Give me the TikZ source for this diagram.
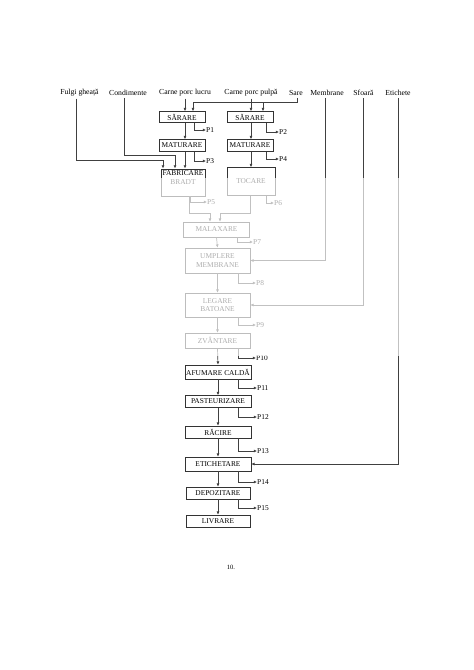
\documentclass[tikz,border=0pt]{standalone}
\usepackage{fontspec}
\setmainfont{Liberation Serif}
\usetikzlibrary{arrows.meta,calc}
\begin{document}
\begin{tikzpicture}[x=1pt,y=-1pt,
  box/.style={draw=black!80, line width=0.7pt, inner sep=0pt, align=center, font=\fontsize{7.4}{8.4}\selectfont},
  lbl/.style={inner sep=0pt, font=\fontsize{7.7}{9}\selectfont},
  loss/.style={inner sep=0pt, anchor=west, font=\fontsize{7.4}{8}\selectfont},
  ln/.style={draw=black!75, line width=0.7pt},
  arr/.style={draw=black!75, line width=0.7pt, -{Latex[length=3.2pt,width=3pt]}}]
\useasboundingbox (0,0) rectangle (474,670);

% input labels
\node[lbl] (fulgi) at (79.5,93) {Fulgi gheață};
\node[lbl] (cond) at (128,93) {Condimente};
\node[lbl] (lucru) at (185,93) {Carne porc lucru};
\node[lbl] (pulpa) at (251,93) {Carne porc pulpă};
\node[lbl] (sare) at (296,93) {Sare};
\node[lbl] (memb) at (327,93) {Membrane};
\node[lbl] (sfoara) at (363.5,93) {Sfoară};
\node[lbl] (etich) at (398,93) {Etichete};

% boxes
\node[box, minimum width=46, minimum height=11] (sar1) at (182,117) {SĂRARE};
\node[box, minimum width=46, minimum height=12] (mat1) at (182,145.5) {MATURARE};
\node[box, minimum width=44, minimum height=27, anchor=north] (fab) at (183,168.5) {};
\node[inner sep=0pt, align=center, anchor=north, font=\fontsize{7.4}{9}\selectfont] (fabt) at ($(fab.north)+(0,1.5)$) {FABRICARE\\BRADT};
\node[box, minimum width=46, minimum height=11] (sar2) at (250,117) {SĂRARE};
\node[box, minimum width=46, minimum height=12] (mat2) at (250,145.5) {MATURARE};
\node[box, minimum width=48, minimum height=28] (toc) at (251,181.5) {TOCARE};
\node[box, minimum width=66, minimum height=15] (mal) at (216.5,229.5) {MALAXARE};
\node[box, minimum width=65, minimum height=25] (ump) at (217.5,260.5) {UMPLERE\\MEMBRANE};
\node[box, minimum width=65, minimum height=24] (leg) at (217.5,305) {LEGARE\\BATOANE};
\node[box, minimum width=65, minimum height=15] (zva) at (217.5,340.5) {ZVÂNTARE};
\node[box, minimum width=66, minimum height=14] (afu) at (218,372) {AFUMARE CALDĂ};
\node[box, minimum width=66, minimum height=12] (pas) at (218,401.5) {PASTEURIZARE};
\node[box, minimum width=66, minimum height=12] (rac) at (218,432) {RĂCIRE};
\node[box, minimum width=66, minimum height=14] (eti) at (218,464) {ETICHETARE};
\node[box, minimum width=64, minimum height=12] (dep) at (218,493) {DEPOZITARE};
\node[box, minimum width=64, minimum height=12] (liv) at (218,521) {LIVRARE};

% loss labels
\node[loss] (p1) at (206,130) {P1};
\node[loss] (p3) at (206,161) {P3};
\node[loss] (p2) at (279,132) {P2};
\node[loss] (p4) at (279,159) {P4};
\node[loss] (p5) at (207,202) {P5};
\node[loss] (p6) at (274,203) {P6};
\node[loss] (p7) at (253,242) {P7};
\node[loss] (p8) at (256,283) {P8};
\node[loss] (p9) at (256,325) {P9};
\node[loss] (p10) at (256,358) {P10};
\node[loss] (p11) at (257,388) {P11};
\node[loss] (p12) at (257,417) {P12};
\node[loss] (p13) at (257,451) {P13};
\node[loss] (p14) at (257,482) {P14};
\node[loss] (p15) at (257,508) {P15};

% inputs
\draw[arr] ($(fulgi.south)+(-3.5,2)$) -- (76,160) -| ($(fab.north)+(-20,0)$);
\draw[arr] ($(cond.south)+(-4,2)$) -- (124,155) -| ($(fab.north)+(-8,0)$);
\draw[arr] ($(lucru.south)+(0,2)$) -- (lucru.south |- sar1.north);
\draw[arr] ($(pulpa.south)+(0,2)$) -- (pulpa.south |- sar2.north);
\draw[arr] ($(sare.south)+(1,2)$) -- (297,102) -| ($(sar1.north)+(11,0)$);
\draw[arr] (263,102) -- ($(sar2.north)+(13,0)$);
\draw[arr] ($(memb.south)+(-2,2)$) |- (ump.east);
\draw[arr] ($(sfoara.south)+(-0.5,2)$) |- (leg.east);
\draw[arr] ($(etich.south)+(0,2)$) |- (eti.east);

% main flow
\draw[arr] ($(sar1.south)+(3,0)$) -- ($(mat1.north)+(3,0)$);
\draw[arr] ($(mat1.south)+(3,0)$) -- ($(fab.north)+(2,0)$);
\draw[arr] ($(sar2.south)+(1,0)$) -- ($(mat2.north)+(1,0)$);
\draw[arr] ($(mat2.south)+(1,0)$) -- ($(toc.north)+(0,0)$);
\draw[arr] ($(fab.south)+(6,0)$) -- ++(0,17) -| ($(mal.north)+(-6.5,0)$);
\draw[arr] ($(toc.south)+(-1,0)$) -- ++(0,17) -| ($(mal.north)+(3.5,0)$);
\draw[arr] (mal.south) -- (ump.north);
\draw[arr] (ump.south) -- (leg.north);
\draw[arr] (leg.south) -- (zva.north);
\draw[arr] (zva.south) -- (afu.north);
\draw[arr] (afu.south) -- (pas.north);
\draw[arr] (pas.south) -- (rac.north);
\draw[arr] (rac.south) -- (eti.north);
\draw[arr] (eti.south) -- (dep.north);
\draw[arr] (dep.south) -- (liv.north);

% losses
\draw[arr] ($(sar1.south)+(12,0)$) |- (p1.west);
\draw[arr] ($(mat1.south)+(12,0)$) |- (p3.west);
\draw[arr] ($(sar2.south)+(16,0)$) |- (p2.west);
\draw[arr] ($(mat2.south)+(16,0)$) |- (p4.west);
\draw[arr] ($(fab.south)+(7,0)$) |- (p5.west);
\draw[arr] ($(toc.south)+(15,0)$) |- (p6.west);
\draw[arr] ($(mal.south)+(20.5,0)$) |- (p7.west);
\draw[arr] ($(ump.south)+(20.5,0)$) |- (p8.west);
\draw[arr] ($(leg.south)+(20.5,0)$) |- (p9.west);
\draw[arr] ($(zva.south)+(20.5,0)$) |- (p10.west);
\draw[arr] ($(afu.south)+(20,0)$) |- (p11.west);
\draw[arr] ($(pas.south)+(20,0)$) |- (p12.west);
\draw[arr] ($(rac.south)+(20,0)$) |- (p13.west);
\draw[arr] ($(eti.south)+(20,0)$) |- (p14.west);
\draw[arr] ($(dep.south)+(20,0)$) |- (p15.west);

% faded region
\fill[white, opacity=0.68] (148,178) rectangle (412,356);

% page number
\node[inner sep=0pt, font=\fontsize{6.5}{7}\selectfont] (pg) at (231,567) {10.};
\end{tikzpicture}
\end{document}
